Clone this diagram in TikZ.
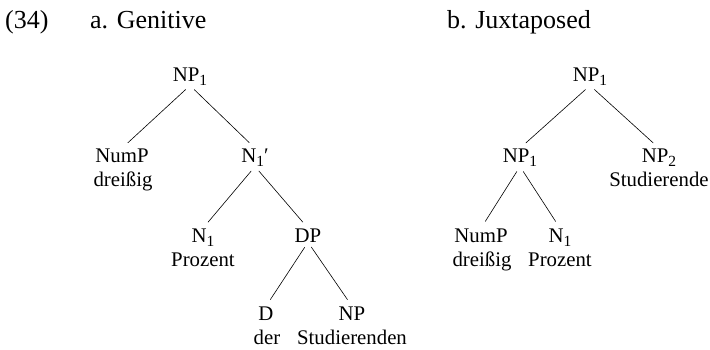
\documentclass[tikz,border=0pt]{standalone}
\usepackage{fontspec}
\setmainfont{Liberation Serif}
\newcommand\subix[1]{\raisebox{-4.3pt}{\fontsize{15.5}{15.5}\selectfont #1}}
\begin{document}
\begin{tikzpicture}[x=1pt,y=-1pt,line join=round,line cap=round,
	cat/.style={anchor=base,inner sep=0pt,font=\fontsize{20.8}{24.5}\selectfont},
	word/.style={cat},
	head/.style={anchor=base west,inner sep=0pt,font=\fontsize{26}{30}\selectfont},
	branch/.style={shorten <=6pt,shorten >=8pt,line width=0.6pt}]
		\useasboundingbox (0,0) rectangle (710,349);
		% headings
		\node[head] (exno) at (5,28) {(34)};
		\node[head] (heada) at (90,28) {a. Genitive};
		\node[head] (headb) at (447,28) {b. Juxtaposed};
		% a. Genitive
		\node[cat] (np1a) at (190,81) {NP\subix{1}};
		\node[cat] (numpa) at (122,162) {NumP};
		\node[word] (dreia) at (123,186) {dreißig};
		\node[cat] (nbara) at (255,162) {N\subix{1}′};
		\node[cat] (n1a) at (203,242) {N\subix{1}};
		\node[word] (proza) at (203,266) {Prozent};
		\node[cat] (dpa) at (308,242) {DP};
		\node[cat] (da) at (266,320) {D};
		\node[word] (dera) at (267,344) {der};
		\node[cat] (npa) at (352,320) {NP};
		\node[word] (studa) at (352,344) {Studierenden};
		\draw[branch] (np1a.south)--(numpa.north);
		\draw[branch] (np1a.south)--(nbara.north);
		\draw[branch] (nbara.south)--(n1a.north);
		\draw[branch] (nbara.south)--(dpa.north);
		\draw[branch] (dpa.south)--(da.north);
		\draw[branch] (dpa.south)--(npa.north);
		% b. Juxtaposed
		\node[cat] (np1b) at (590,81) {NP\subix{1}};
		\node[cat] (np1bb) at (520,162) {NP\subix{1}};
		\node[cat] (np2b) at (659,162) {NP\subix{2}};
		\node[word] (studb) at (659,186) {Studierende};
		\node[cat] (numpb) at (481,242) {NumP};
		\node[word] (dreib) at (482,266) {dreißig};
		\node[cat] (n1b) at (560,242) {N\subix{1}};
		\node[word] (prozb) at (560,266) {Prozent};
		\draw[branch] (np1b.south)--(np1bb.north);
		\draw[branch] (np1b.south)--(np2b.north);
		\draw[branch] (np1bb.south)--(numpb.north);
		\draw[branch] (np1bb.south)--(n1b.north);
\end{tikzpicture}
\end{document}
